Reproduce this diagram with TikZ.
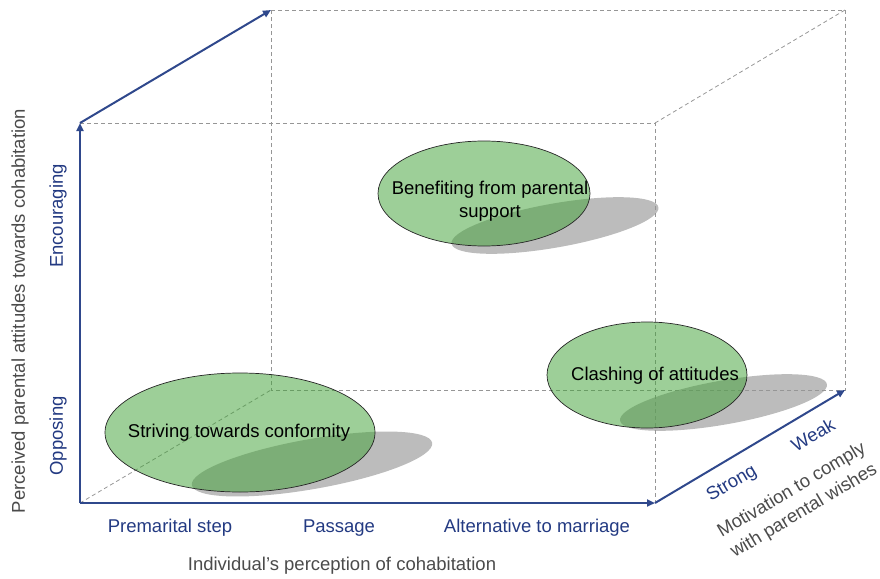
\documentclass[tikz,border=0pt]{standalone}
\usepackage{fontspec}
\setmainfont{Liberation Sans}
\usetikzlibrary{shapes.geometric,arrows.meta}

\definecolor{axisblue}{RGB}{47,72,140}
\definecolor{labelblue}{RGB}{35,58,130}
\definecolor{labelgray}{RGB}{75,75,75}
\definecolor{gridgray}{RGB}{150,150,150}
\definecolor{bubblegreen}{RGB}{67,163,57}
\definecolor{shadowgray}{RGB}{188,188,188}

\begin{document}
\begin{tikzpicture}[x=1pt,y=-1pt,
  axis/.style={draw=axisblue, line width=2pt, -{Triangle[length=8pt,width=7pt]}},
  edge/.style={draw=gridgray, line width=0.8pt, dash pattern=on 4pt off 3pt},
  bubble/.style={ellipse, draw=black!85, line width=0.7pt, fill=bubblegreen,
                 fill opacity=0.52, inner sep=0pt},
  castshadow/.style={ellipse, fill=shadowgray, inner sep=0pt, rotate=10},
  bubbletext/.style={font=\fontsize{18.5}{23}\selectfont, text=black, align=center},
  ticklabel/.style={font=\fontsize{18.5}{22}\selectfont, text=labelblue},
  axislabel/.style={font=\fontsize{18.5}{22}\selectfont, text=labelgray, align=center},
]
\useasboundingbox (0,0) rectangle (880,578);

% corners of the box: front face and back face
\coordinate (FBL) at (80,503);
\coordinate (FBR) at (655,503);
\coordinate (FTL) at (80,123);
\coordinate (FTR) at (655,123);
\coordinate (BBL) at (271,390);
\coordinate (BBR) at (845,390);
\coordinate (BTL) at (271,10);
\coordinate (BTR) at (845,10);

% cast shadows of the bubbles
\node[castshadow, minimum width=244pt, minimum height=50pt] (shStrive) at (312,464) {};
\node[castshadow, minimum width=210pt, minimum height=44pt] (shBenefit) at (555,225.5) {};
\node[castshadow, minimum width=210pt, minimum height=44pt] (shClash) at (723.5,402.5) {};

% hidden and open edges of the box
\draw[edge] (FTL) -- (FTR) -- (FBR);
\draw[edge] (FTR) -- (BTR);
\draw[edge] (BTL) -- (BTR) -- (BBR) -- (BBL) -- (BTL);
\draw[edge] (FBL) -- (BBL);

% bubbles
\node[bubble, minimum width=270pt, minimum height=119pt] (strive) at (240,432.5) {};
\node[bubble, minimum width=212pt, minimum height=105pt] (benefit) at (484,193.5) {};
\node[bubble, minimum width=200pt, minimum height=106pt] (clash) at (647,375) {};

\node[bubbletext] (striveText) at (239,433) {Striving towards conformity};
\node[bubbletext] (benefitText) at (490,201) {Benefiting from parental\\support};
\node[bubbletext] (clashText) at (655,376) {Clashing of attitudes};

% axes
\draw[axis] (FBL) -- (FTL);
\draw[axis] (FTL) -- (BTL);
\draw[axis] (FBL) -- (FBR);
\draw[axis] (FBR) -- (BBR);

% tick labels
\node[ticklabel] (premarital) at (170,528) {Premarital step};
\node[ticklabel] (passage) at (339,528) {Passage};
\node[ticklabel] (alternative) at (537,528) {Alternative to marriage};
\node[ticklabel, rotate=90] (opposing) at (58,436) {Opposing};
\node[ticklabel, rotate=90] (encouraging) at (58,216) {Encouraging};
\node[ticklabel, rotate=30.7] (strong) at (732,484) {Strong};
\node[ticklabel, rotate=30.7] (weak) at (813,435) {Weak};

% axis titles
\node[axislabel] (xtitle) at (342,566) {Individual’s perception of cohabitation};
\node[axislabel, rotate=90] (ytitle) at (20,311) {Perceived parental attitudes towards cohabitation};
\node[axislabel, rotate=30.7, font=\fontsize{18.5}{24}\selectfont] (ztitle) at (798,501) {Motivation to comply\\with parental wishes};
\end{tikzpicture}
\end{document}
